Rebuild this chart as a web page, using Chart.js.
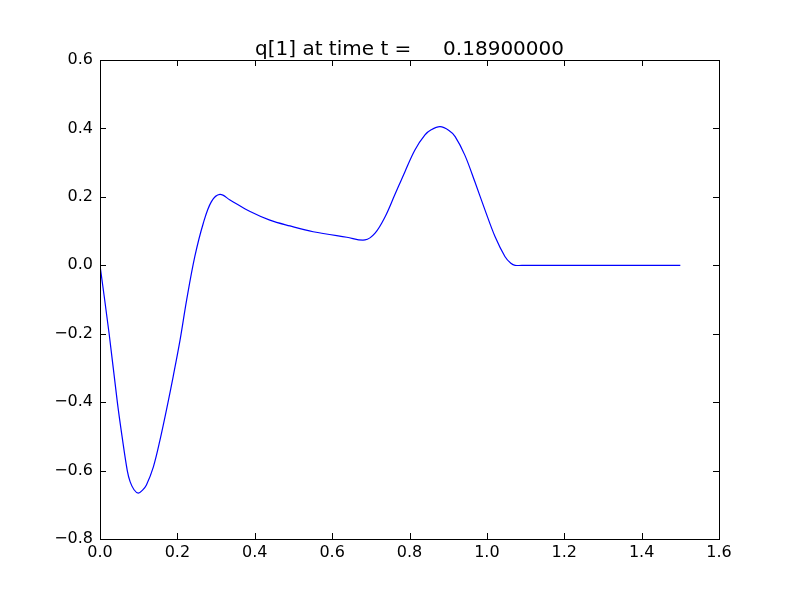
<!DOCTYPE html>
<html>
<head>
<meta charset="utf-8">
<script src="https://cdn.jsdelivr.net/npm/chart.js@4.4.0/dist/chart.umd.min.js"></script>
<style>
  html, body { margin: 0; padding: 0; background: #fff; }
  #wrap { width: 800px; height: 600px; }
</style>
</head>
<body>
<div id="wrap"><canvas id="chart" width="800" height="600"></canvas></div>
<script>
// values
var titleText = "q[1] at time t =     0.18900000";
var xValues = [0, 0.0236, 0.0448, 0.057, 0.0705, 0.078, 0.088, 0.099, 0.110, 0.120, 0.138, 0.155,
               0.177, 0.189, 0.207, 0.224, 0.245, 0.267, 0.288, 0.310, 0.336, 0.388, 0.439, 0.491, 0.551, 0.638,
               0.685, 0.711, 0.737, 0.762, 0.788, 0.814, 0.840, 0.856, 0.879, 0.902, 0.918, 0.943, 0.969, 0.995,
               1.021, 1.047, 1.062, 1.073, 1.1, 1.2, 1.3, 1.4, 1.5];
var yValues = [0, -0.200, -0.400, -0.500, -0.600, -0.633, -0.656, -0.666, -0.657, -0.642, -0.589, -0.511,
               -0.394, -0.326, -0.218, -0.101, 0.025, 0.123, 0.186, 0.207, 0.191, 0.157, 0.132, 0.115, 0.098, 0.082,
               0.074, 0.094, 0.142, 0.206, 0.273, 0.337, 0.381, 0.396, 0.405, 0.394, 0.376, 0.322, 0.244, 0.162,
               0.084, 0.025, 0.006, 0, 0, 0, 0, 0, 0];
var xTicks = [0, 0.2, 0.4, 0.6, 0.8, 1.0, 1.2, 1.4, 1.6];
var yTicks = [-0.8, -0.6, -0.4, -0.2, 0, 0.2, 0.4, 0.6];

var points = [];
for (var i = 0; i < xValues.length; i++) points.push({x: xValues[i], y: yValues[i]});

function fmt(v) {
  if (Math.abs(v) < 1e-9) v = 0;
  return Number(v).toFixed(1).replace('-', '\u2212');
}

// matplotlib-like frame with inward ticks on every side, title over the plot area
var frame = {
  id: 'frame',
  afterDraw: function(c) {
    var ctx = c.ctx, a = c.chartArea, xs = c.scales.x, ys = c.scales.y;
    var L = 6;
    ctx.save();
    ctx.strokeStyle = '#000';
    ctx.lineWidth = 1;
    ctx.beginPath();
    xTicks.forEach(function(t) {
      var p = Math.round(xs.getPixelForValue(t)) + 0.5;
      ctx.moveTo(p, a.bottom); ctx.lineTo(p, a.bottom - L);
      ctx.moveTo(p, a.top); ctx.lineTo(p, a.top + L);
    });
    yTicks.forEach(function(t) {
      var p = Math.round(ys.getPixelForValue(t)) + 0.5;
      ctx.moveTo(a.left, p); ctx.lineTo(a.left + L, p);
      ctx.moveTo(a.right, p); ctx.lineTo(a.right - L, p);
    });
    ctx.stroke();
    ctx.strokeRect(Math.round(a.left) + 0.5, Math.round(a.top) + 0.5,
                   Math.round(a.right - a.left), Math.round(a.bottom - a.top));
    ctx.fillStyle = '#000';
    ctx.font = "20px 'DejaVu Sans', sans-serif";
    ctx.textAlign = 'center';
    ctx.textBaseline = 'alphabetic';
    ctx.fillText(titleText, (a.left + a.right) / 2, 55);
    ctx.restore();
  }
};

Chart.defaults.font.family = "'DejaVu Sans', sans-serif";
Chart.defaults.color = '#000';

var chart = new Chart(document.getElementById('chart'), {
  type: 'line',
  data: {
    datasets: [{
      data: points,
      borderColor: '#0000ff',
      borderWidth: 1.2,
      pointRadius: 0,
      fill: false,
      tension: 0.35
    }]
  },
  options: {
    responsive: false,
    animation: false,
    layout: { padding: { left: 0, right: 81, top: 60, bottom: 0 } },
    plugins: {
      legend: { display: false },
      tooltip: { enabled: false },
      title: { display: false }
    },
    scales: {
      x: {
        type: 'linear',
        min: 0, max: 1.6,
        grid: { display: false, drawTicks: false },
        border: { display: false },
        ticks: { stepSize: 0.2, padding: 4, font: { size: 16 }, maxRotation: 0, callback: fmt },
        afterFit: function(s) { s.height = 61; }
      },
      y: {
        min: -0.8, max: 0.6,
        grid: { display: false, drawTicks: false },
        border: { display: false },
        ticks: { stepSize: 0.2, padding: 7, font: { size: 16 }, callback: fmt },
        afterFit: function(s) { s.width = 100; }
      }
    }
  },
  plugins: [frame]
});
</script>
</body>
</html>
